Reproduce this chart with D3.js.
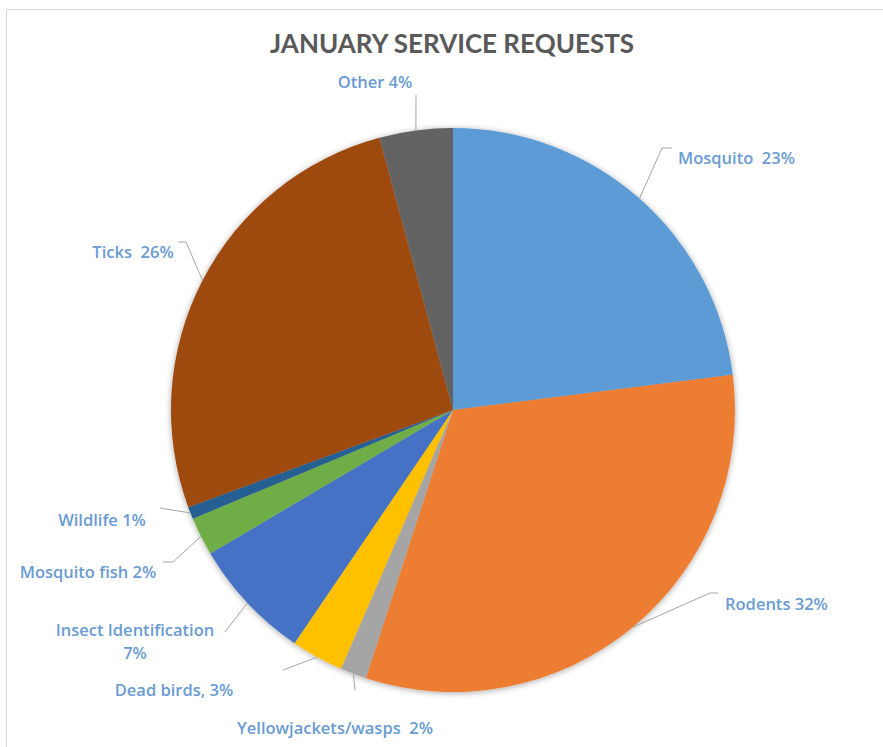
<!DOCTYPE html>
<html>
<head>
<meta charset="utf-8">
<script src="https://cdn.jsdelivr.net/npm/d3@7"></script>
<style>
  body { margin: 0; background: #fff; }
  svg { display: block; }
  .label { font-family: "Open Sans", Lato, sans-serif; font-weight: 600; font-size: 16.5px; fill: #6a9bd3; }
  .leader { fill: none; stroke: #a6a6a6; stroke-width: 1; }
</style>
</head>
<body>
<div class="svg_container"></div>
<script>
// data (clockwise from 12 o'clock)
var categories = ["Mosquito", "Rodents", "Yellowjackets/wasps", "Dead birds", "Insect Identification",
                  "Mosquito fish", "Wildlife", "Ticks", "Other"];
var shares = [23.0, 32.0, 1.5, 3.0, 7.0, 2.2, 0.7, 26.4, 4.2];
var labels = [["Mosquito  23%"], ["Rodents 32%"], ["Yellowjackets/wasps  2%"], ["Dead birds, 3%"],
              ["Insect Identification", "7%"], ["Mosquito fish 2%"], ["Wildlife 1%"], ["Ticks  26%"], ["Other 4%"]];
var colors = ["#5b9bd5", "#ed7d31", "#a5a5a5", "#ffc000", "#4472c4", "#70ad47", "#255e91", "#9e480e", "#636363"];

// label layout: elbow point of the leader, end of leader, text anchor point
var labelLayout = [
  { elbow: [662, 148], end: [672, 148], text: [678, 164], anchor: "start" },
  { elbow: [710, 593], end: [718, 593], text: [725, 610], anchor: "start" },
  { elbow: [355, 690], end: [355, 690], text: [335, 734], anchor: "middle" },
  { elbow: [283, 670], end: [283, 670], text: [174, 696], anchor: "middle" },
  { elbow: [225, 632], end: [225, 632], text: [135, 636], anchor: "middle" },
  { elbow: [173, 562], end: [163, 562], text: [88, 578], anchor: "middle" },
  { elbow: [160, 508], end: [160, 508], text: [102, 526], anchor: "middle" },
  { elbow: [186, 242], end: [178, 242], text: [133, 258], anchor: "middle" },
  { elbow: [416, 95], end: [416, 95], text: [375, 88], anchor: "middle" }
];

var width = 883, height = 747;
var cx = 453, cy = 410, radius = 282;

var data = categories.map(function(c, i) {
  return { name: c, value: shares[i], color: colors[i], label: labels[i], layout: labelLayout[i] };
});

var svg = d3.select(".svg_container").append("svg")
  .attr("width", width)
  .attr("height", height);

// soft shadow like the original
var defs = svg.append("defs");
var filter = defs.append("filter").attr("id", "soft")
  .attr("x", "-10%").attr("y", "-10%").attr("width", "120%").attr("height", "120%");
filter.append("feGaussianBlur").attr("in", "SourceAlpha").attr("stdDeviation", 3).attr("result", "blur");
filter.append("feOffset").attr("in", "blur").attr("dx", 0).attr("dy", 1).attr("result", "off");
filter.append("feComponentTransfer").attr("in", "off").attr("result", "shadow")
  .append("feFuncA").attr("type", "linear").attr("slope", 0.35);
var merge = filter.append("feMerge");
merge.append("feMergeNode").attr("in", "shadow");
merge.append("feMergeNode").attr("in", "SourceGraphic");

// chart frame (runs off the right and bottom)
svg.append("path")
  .attr("d", "M6.5," + (height + 5) + "V9.5H" + (width + 5))
  .attr("fill", "none")
  .attr("stroke", "#d9d9d9")
  .attr("stroke-width", 1);

// title
svg.append("text")
  .attr("x", 452)
  .attr("y", 53)
  .attr("text-anchor", "middle")
  .style("font-family", "Lato, 'Open Sans', sans-serif")
  .style("font-weight", "bold")
  .style("font-size", "26px")
  .style("fill", "#595959")
  .text("JANUARY SERVICE REQUESTS");

var pie = d3.pie()
  .sort(null)
  .value(function(d) { return d.value; });

var arc = d3.arc()
  .innerRadius(0)
  .outerRadius(radius);

var arcs = pie(data);

var g = svg.append("g")
  .attr("transform", "translate(" + cx + "," + cy + ")");

g.append("g")
  .attr("filter", "url(#soft)")
  .selectAll("path")
  .data(arcs)
  .enter().append("path")
  .attr("d", arc)
  .attr("fill", function(d) { return d.data.color; });

// leader lines from the slice edge at its mid angle
svg.selectAll(".leader")
  .data(arcs)
  .enter().append("polyline")
  .attr("class", "leader")
  .attr("points", function(d) {
    var a = (d.startAngle + d.endAngle) / 2;
    var p0 = [cx + radius * Math.sin(a), cy - radius * Math.cos(a)];
    var l = d.data.layout;
    return [p0, l.elbow, l.end].map(function(p) { return p.join(","); }).join(" ");
  });

// labels
var lab = svg.selectAll(".label")
  .data(arcs)
  .enter().append("text")
  .attr("class", "label")
  .attr("x", function(d) { return d.data.layout.text[0]; })
  .attr("y", function(d) { return d.data.layout.text[1]; })
  .attr("text-anchor", function(d) { return d.data.layout.anchor; })
  .attr("xml:space", "preserve");

lab.selectAll("tspan")
  .data(function(d) { return d.data.label.map(function(t) { return { t: t, x: d.data.layout.text[0] }; }); })
  .enter().append("tspan")
  .attr("x", function(d) { return d.x; })
  .attr("dy", function(d, i) { return i === 0 ? 0 : 23; })
  .text(function(d) { return d.t; });
</script>
</body>
</html>
